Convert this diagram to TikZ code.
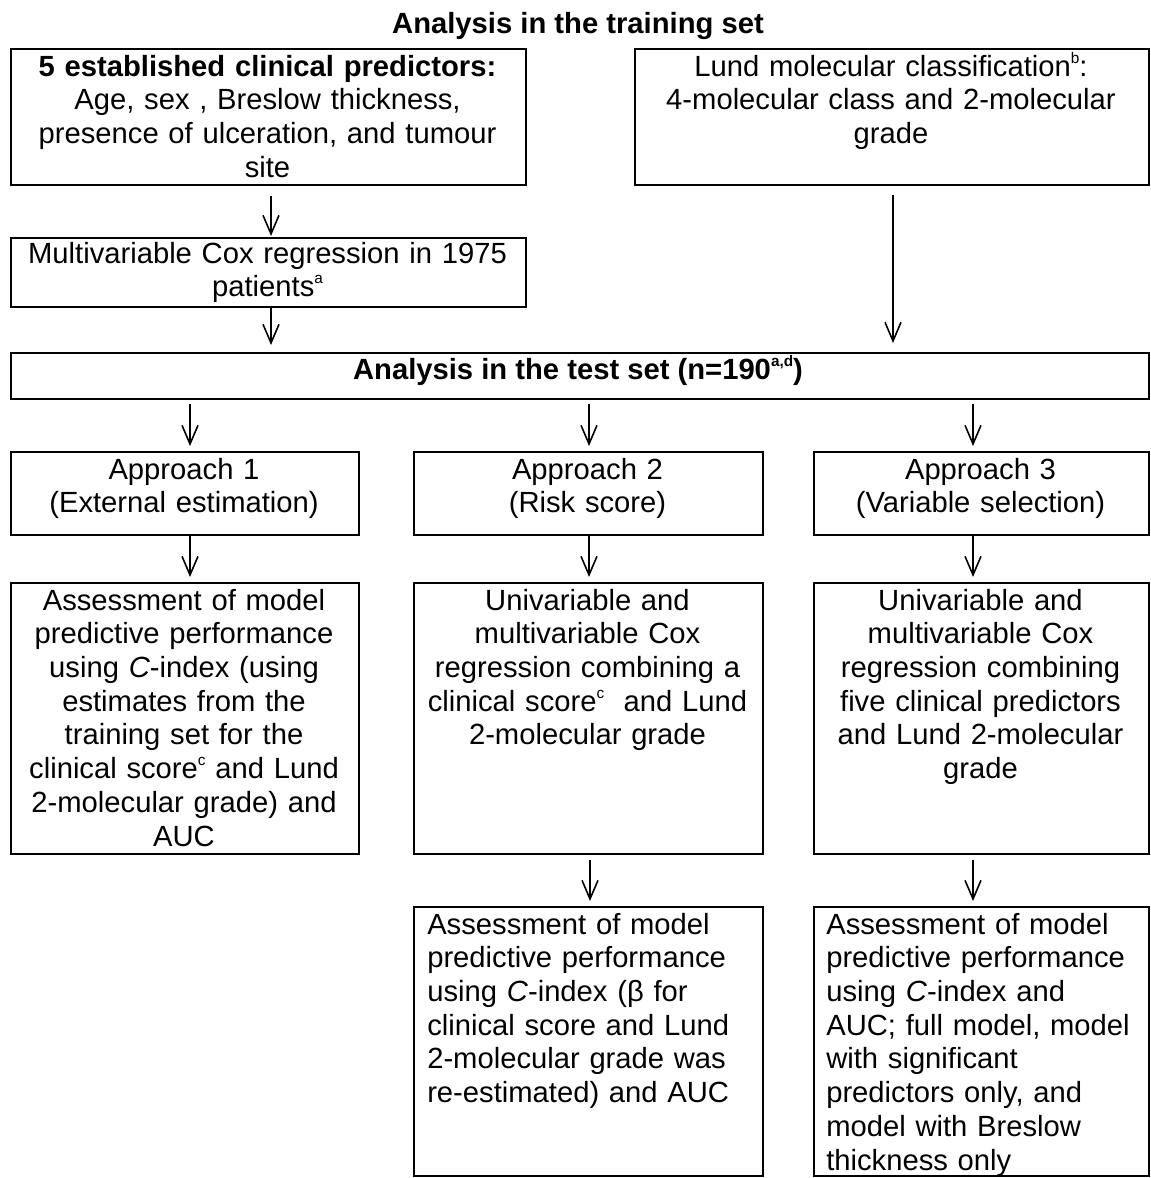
\documentclass[tikz,border=0pt]{standalone}
\usepackage{fontspec}
\setmainfont{Liberation Sans}
\usetikzlibrary{arrows.meta,calc}
\newcommand\mysup[1]{\raisebox{9.6pt}{\fontsize{11.5pt}{11.5pt}\selectfont #1}}
\begin{document}
\begin{tikzpicture}[x=0.75pt,y=-0.75pt,
  box/.style={draw, line width=1.5pt, rectangle, inner sep=0pt, anchor=north west},
  txt/.style={inner sep=0pt, font=\fontsize{21.9pt}{25.3pt}\selectfont},
  ctxt/.style={txt, align=center, anchor=base},
  ltxt/.style={txt, align=left, anchor=base west},
  arr/.style={line width=1.2pt, -{Straight Barb[length=14pt,width=12pt]}}]
\useasboundingbox (0,0) rectangle (1151,1178);

% boxes
\node[box, minimum width=386.25pt, minimum height=102pt] (b1) at (10,48) {};
\node[box, minimum width=385.5pt, minimum height=102pt] (lund) at (634,48) {};
\node[box, minimum width=386.25pt, minimum height=51.75pt] (cox) at (10,237) {};
\node[box, minimum width=853.5pt, minimum height=34.5pt] (test) at (10,352) {};
\node[box, minimum width=261pt, minimum height=62.25pt] (a1) at (10,451) {};
\node[box, minimum width=261.75pt, minimum height=62.25pt] (a2) at (413,451) {};
\node[box, minimum width=251.25pt, minimum height=62.25pt] (a3) at (813,451) {};
\node[box, minimum width=261pt, minimum height=203.25pt] (m1) at (10,582) {};
\node[box, minimum width=261.75pt, minimum height=203.25pt] (m2) at (413,582) {};
\node[box, minimum width=251.25pt, minimum height=203.25pt] (m3) at (813,582) {};
\node[box, minimum width=261.75pt, minimum height=201.75pt] (b2) at (413,906) {};
\node[box, minimum width=251.25pt, minimum height=201.75pt] (b3) at (813,906) {};

% texts
\node[ctxt, font=\fontsize{21.9pt}{25.3pt}\selectfont\bfseries] (title) at (578,33) {Analysis in the training set};
\node[ctxt, text width=375pt] (b1t) at (267.5,76) {\textbf{5 established clinical predictors:}\\Age, sex , Breslow thickness,\\presence of ulceration, and tumour\\site};
\node[ctxt, text width=375pt] (lundt) at (891,76) {Lund molecular classification\mysup{b}:\\4-molecular class and 2-molecular\\grade};
\node[ctxt, text width=375pt] (coxt) at (267.5,263) {Multivariable Cox regression in 1975\\patients\mysup{a}};
\node[ctxt, font=\fontsize{21.9pt}{25.3pt}\selectfont\bfseries] (testt) at (578,379) {Analysis in the test set (n=190\mysup{\bfseries a,d})};
\node[ctxt, text width=255pt] (a1t) at (184,479) {Approach 1\\(External estimation)};
\node[ctxt, text width=255pt] (a2t) at (587.5,479) {Approach 2\\(Risk score)};
\node[ctxt, text width=245pt] (a3t) at (980.5,479) {Approach 3\\(Variable selection)};
\node[ctxt, text width=255pt] (m1t) at (184,610) {Assessment of model\\predictive performance\\using \textit{C}-index (using\\estimates from the\\training set for the\\clinical score\mysup{c} and Lund\\2-molecular grade) and\\AUC};
\node[ctxt, text width=255pt] (m2t) at (587.5,610) {Univariable and\\multivariable Cox\\regression combining a\\clinical score\mysup{c}\ \ and Lund\\2-molecular grade};
\node[ctxt, text width=245pt] (m3t) at (980.5,610) {Univariable and\\multivariable Cox\\regression combining\\five clinical predictors\\and Lund 2-molecular\\grade};
\node[ltxt, text width=240pt] (b2t) at (427,934) {Assessment of model\\predictive performance\\using \textit{C}-index (β for\\clinical score and Lund\\2-molecular grade was\\re-estimated) and AUC};
\node[ltxt, text width=240pt] (b3t) at (826,934) {Assessment of model\\predictive performance\\using \textit{C}-index and\\AUC; full model, model\\with significant\\predictors only, and\\model with Breslow\\thickness only};

% connectors
\draw[arr] ($(b1.south)+(2.5,10)$) -- ($(cox.north)+(2.5,-1)$);
\draw[arr] ($(cox.south)+(2.5,0)$) -- ($(test.north -| cox.south)+(2.5,-7)$);
\draw[arr] ($(lund.south)+(1,9)$) -- ($(test.north -| lund.south)+(1,-9)$);
\draw[arr] ($(test.south -| a1.north)+(5,4)$) -- ($(a1.north)+(5,-5)$);
\draw[arr] ($(test.south -| a2.north)+(0.5,4)$) -- ($(a2.north)+(0.5,-5)$);
\draw[arr] ($(test.south -| a3.north)+(-8.5,4)$) -- ($(a3.north)+(-8.5,-5)$);
\draw[arr] ($(a1.south)+(5,0)$) -- ($(m1.north)+(5,-5)$);
\draw[arr] ($(a2.south)+(0.5,0)$) -- ($(m2.north)+(0.5,-5)$);
\draw[arr] ($(a3.south)+(-8.5,0)$) -- ($(m3.north)+(-8.5,-5)$);
\draw[arr] ($(m2.south)+(1.5,5)$) -- ($(b2.north)+(1.5,-5)$);
\draw[arr] ($(m3.south)+(-8.5,5)$) -- ($(b3.north)+(-8.5,-5)$);
\end{tikzpicture}
\end{document}
